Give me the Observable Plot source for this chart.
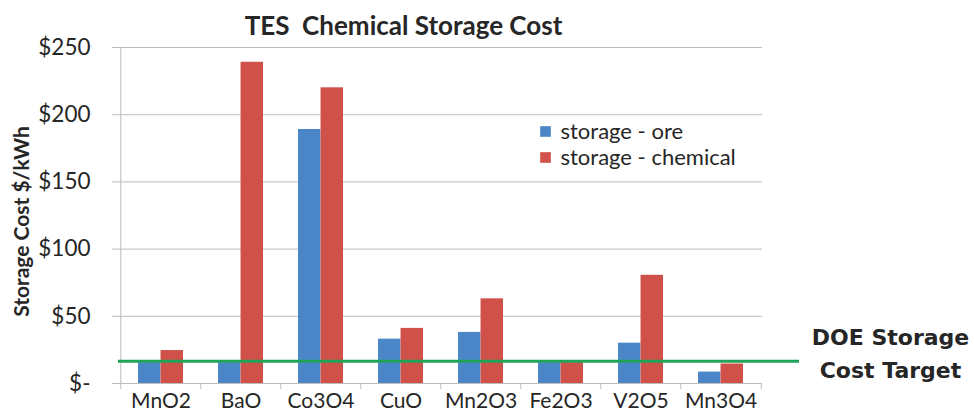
<!DOCTYPE html>
<html><head><meta charset="utf-8">
<script src="https://cdn.jsdelivr.net/npm/d3@7"></script>
<script src="https://cdn.jsdelivr.net/npm/@observablehq/plot@0.6"></script>
<style>body{margin:0;background:#fff}</style>
</head><body><div id="chart"></div>
<script>
const categories = ["MnO2","BaO","Co3O4","CuO","Mn2O3","Fe2O3","V2O5","Mn3O4"];
const oreCost = [15.5,15.5,189,33,38,15.5,30,8.5];
const chemicalCost = [24.5,239,220,41,63,15.5,80.5,14.5];
const seriesNames = ["storage - ore","storage - chemical"];
const seriesColors = ["#4a86c8","#d0504a"];
const yTicks = [0,50,100,150,200,250];
const targetCost = [16.5];
const titleText = "TES  Chemical Storage Cost";
const yLabel = "Storage Cost $/kWh";
const targetLabel = "DOE Storage\nCost Target";

const rows = categories.map((c,i)=>({category:c, ore: oreCost[i], chemical: chemicalCost[i]}));
const W=974, H=416, mL=118, mR=212, mT=47, mB=33;
const frameH = H-mT-mB;
const pad = 0.44;
const step = (W-mL-mR)/categories.length;
const bw = step*(1-pad);
const grid = "#bdbdbd", ink = "#262626";

const legendMarks = seriesNames.flatMap((s,i)=>[
  Plot.dot([s], {frameAnchor:"top-left", dx:427, dy:84+i*26, symbol:"square", r:6, fill:seriesColors[i], stroke:null}),
  Plot.text([s], {text:d=>d, frameAnchor:"top-left", dx:442, dy:84+i*26, textAnchor:"start", lineAnchor:"middle", fontSize:22, fill:ink})
]);

const chart = Plot.plot({
  width: W, height: H,
  marginLeft: mL, marginRight: mR, marginTop: mT, marginBottom: mB,
  style: {fontFamily: "Lato, sans-serif", background: "#fff"},
  x: {domain: categories, paddingInner: pad, paddingOuter: pad/2, label: null},
  y: {domain: [0,250], label: null},
  marks: [
    Plot.gridY(yTicks, {stroke: grid, strokeOpacity: 1, insetLeft: -6}),
    Plot.ruleX([categories[0]], {x: d=>d, dx: -step/2, stroke: grid}),
    Plot.ruleX(categories, {x: d=>d, dx: -step/2, insetTop: frameH, insetBottom: -6, stroke: grid}),
    Plot.ruleX([categories[categories.length-1]], {x: d=>d, dx: step/2, insetTop: frameH, insetBottom: -6, stroke: grid}),
    Plot.barY(rows, {x: "category", y: "ore", fill: seriesColors[0], insetRight: bw/2}),
    Plot.barY(rows, {x: "category", y: "chemical", fill: seriesColors[1], insetLeft: bw/2}),
    Plot.ruleY(targetCost, {stroke: "#22a35a", strokeWidth: 3, insetRight: -37}),
    Plot.axisY(yTicks, {tickSize: 0, tickPadding: 28, fontSize: 22.5, fill: ink, label: null,
      tickFormat: d => d === 0 ? "$-" : "$" + d}),
    Plot.axisX({tickSize: 0, tickPadding: 10, fontSize: 21, fill: ink, label: null}),
    Plot.text([titleText], {text: d=>d, frameAnchor: "top", dx: -37, dy: -21, lineAnchor: "middle", fontWeight: "bold", fontSize: 26, fill: ink}),
    Plot.text([yLabel], {text: d=>d, frameAnchor: "left", textAnchor: "middle", rotate: -90, dx: -96, dy: 6, fontWeight: "bold", fontSize: 21, fill: ink}),
    Plot.text(targetCost, {y: d=>d, text: () => targetLabel, frameAnchor: "right", dx: 128, dy: -10.5, textAnchor: "middle", lineAnchor: "middle", fontWeight: "bold", fontSize: 22, lineHeight: 1.5, fontFamily: "DejaVu Sans", fill: ink}),
    ...legendMarks
  ]
});
document.getElementById("chart").appendChild(chart);
</script>
</body></html>
